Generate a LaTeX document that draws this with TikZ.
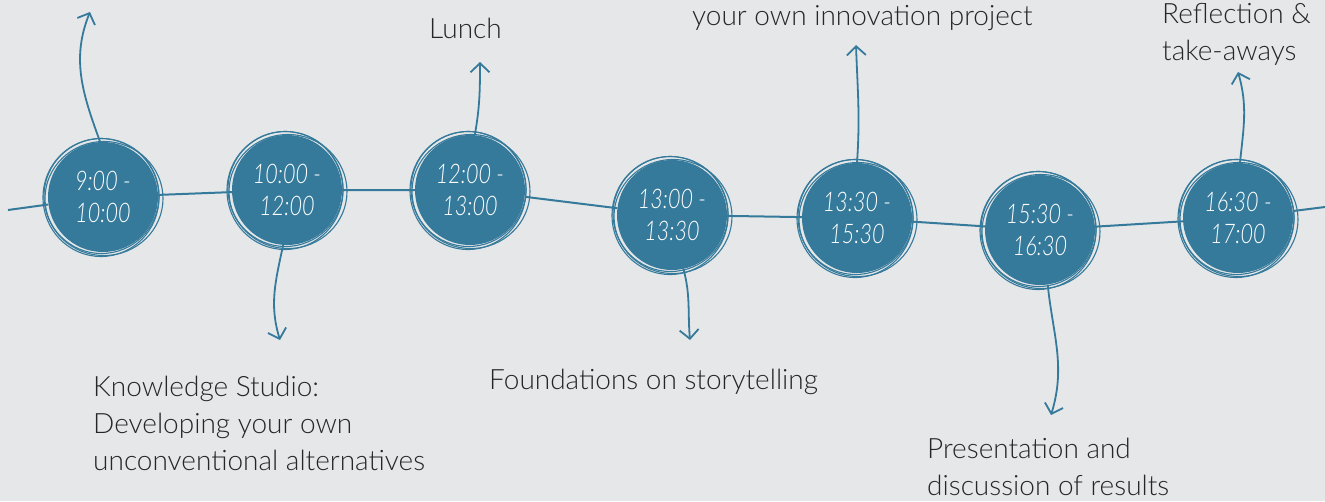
\documentclass[tikz,border=0pt]{standalone}
\usepackage{fontspec}
\setmainfont{Lato}[UprightFont=*-Light,ItalicFont=*-LightItalic]
\newfontfamily\slotfont{Lato}[UprightFont=*-LightItalic,FakeStretch=0.8]
\usetikzlibrary{arrows.meta}
\definecolor{tlblue}{HTML}{357A9B}
\definecolor{tlback}{HTML}{E6E7E9}
\definecolor{tlink}{HTML}{262626}

\begin{document}
\begin{tikzpicture}[x=1pt,y=1pt,
	slot/.style={circle,fill=tlblue,minimum size=110pt,inner sep=0pt,text=white,align=center,font=\fontsize{27}{32}\slotfont},
	ring/.style={draw=tlblue,line width=1.1pt},
	lane/.style={draw=tlblue,line width=2pt},
	arr/.style={draw=tlblue,line width=1.8pt,-{Straight Barb[length=9pt,width=19pt]}},
	lbl/.style={anchor=north west,inner sep=0pt,align=left,text=tlink,font=\fontsize{28}{37}\selectfont}]
			%%%%% START %%%%%
			\fill[tlback] (0,0) rectangle (1325,-501);
			\useasboundingbox (0,0) rectangle (1325,-501);
			
			% time slots
			\node[slot] (t1) at (103,-197) {9:00 -\\10:00};
			\node[slot] (t2) at (287,-190) {10:00 -\\12:00};
			\node[slot] (t3) at (470,-190) {12:00 -\\13:00};
			\node[slot] (t4) at (672,-215) {13:00 -\\13:30};
			\node[slot] (t5) at (857,-218) {13:30 -\\15:30};
			\node[slot] (t6) at (1040,-230) {15:30 -\\16:30};
			\node[slot] (t7) at (1238,-218) {16:30 -\\17:00};
			
			% timeline
			\coordinate (s0) at (8,-210);
			\coordinate (s8) at (1325,-207);
			\draw[lane] (s0) -- (t1) -- (t2) -- (t3) -- (t4) -- (t5) -- (t6) -- (t7) -- (s8);
			
			% sketchy rings
			\foreach \n in {t1,t2,t3,t4,t5,t6,t7} {
				\draw[ring] ([shift={(-1.5,1)}]\n.center) circle (57.5);
				\draw[ring] ([shift={(1,-1.5)}]\n.center) ellipse (59 and 57);
				\draw[ring] ([shift={(-2,-0.5)}]\n.center) ellipse (58 and 59);
			}
			
			% arrow ends
			\coordinate (e1) at (90,-12);
			\coordinate (e2) at (280,-340);
			\coordinate (e3) at (480,-62);
			\coordinate (e4) at (690,-340);
			\coordinate (e5) at (856,-45);
			\coordinate (e6) at (1051,-415);
			\coordinate (e7) at (1238,-72);
			
			\draw[arr] (t1.93) to[out=110,in=-112] (e1);
			\draw[arr] (t2.266) to[out=-102,in=107] (e2);
			\draw[arr] (t3.85) to[out=80,in=-90] (e3);
			\draw[arr] (t4.282) to[out=-75,in=95] (e4);
			\draw[arr] (t5.90) to[out=86,in=-88] (e5);
			\draw[arr] (t6.278) to[out=-84,in=73] (e6);
			\draw[arr] (t7.88) to[out=84,in=-74] (e7);
			
			% labels
			\node[lbl] (lunch) at (429,-17.5) {Lunch};
			\node[lbl] (proj) at (692,-5.5) {your own innovation project};
			\node[lbl] (refl) at (1162,-3.5) {Reflection \&\\take-aways};
			\node[lbl] (know) at (93,-375.5) {Knowledge Studio:\\Developing your own\\unconventional alternatives};
			\node[lbl] (story) at (489,-368.5) {Foundations on storytelling};
			\node[lbl] (pres) at (927,-437.5) {Presentation and\\discussion of results};
			%%%%% END %%%%%
\end{tikzpicture}
\end{document}
